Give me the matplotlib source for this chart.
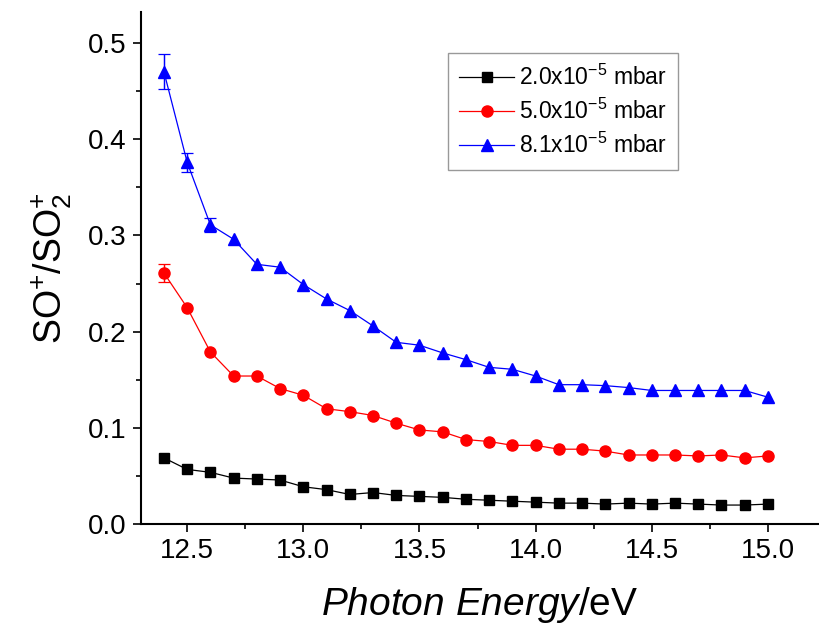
import numpy as np
import matplotlib
matplotlib.use('Agg')
import matplotlib.pyplot as plt
from matplotlib.ticker import MultipleLocator, FormatStrFormatter

plt.rcParams['font.family'] = ['Liberation Sans', 'DejaVu Sans']
plt.rcParams['mathtext.fontset'] = 'custom'
plt.rcParams['mathtext.rm'] = 'Liberation Sans'
plt.rcParams['mathtext.it'] = 'Liberation Sans:italic'
plt.rcParams['mathtext.bf'] = 'Liberation Sans:bold'

# --- data ---
energy = [12.4, 12.5, 12.6, 12.7, 12.8, 12.9, 13.0, 13.1, 13.2, 13.3, 13.4,
          13.5, 13.6, 13.7, 13.8, 13.9, 14.0, 14.1, 14.2, 14.3, 14.4, 14.5,
          14.6, 14.7, 14.8, 14.9, 15.0]

ratio_20 = [0.069, 0.057, 0.054, 0.048, 0.047, 0.046, 0.039, 0.036, 0.031,
            0.033, 0.030, 0.029, 0.028, 0.026, 0.025, 0.024, 0.023, 0.022,
            0.022, 0.021, 0.022, 0.021, 0.022, 0.021, 0.020, 0.020, 0.021]
err_20 = [0.002] * 27

ratio_50 = [0.261, 0.225, 0.179, 0.154, 0.154, 0.141, 0.134, 0.120, 0.117,
            0.113, 0.105, 0.098, 0.096, 0.088, 0.086, 0.082, 0.082, 0.078,
            0.078, 0.076, 0.072, 0.072, 0.072, 0.071, 0.072, 0.069, 0.071]
err_50 = [0.009, 0.004, 0.003, 0.003, 0.003, 0.003, 0.003, 0.003, 0.003,
          0.003, 0.003, 0.003, 0.003, 0.003, 0.003, 0.003, 0.003, 0.003,
          0.003, 0.003, 0.003, 0.003, 0.003, 0.003, 0.003, 0.003, 0.003]

ratio_81 = [0.470, 0.376, 0.311, 0.296, 0.270, 0.267, 0.249, 0.234, 0.222,
            0.206, 0.189, 0.186, 0.178, 0.171, 0.163, 0.161, 0.154, 0.145,
            0.145, 0.144, 0.142, 0.139, 0.139, 0.139, 0.139, 0.139, 0.132]
err_81 = [0.018, 0.010, 0.007, 0.006, 0.005, 0.005, 0.005, 0.005, 0.005,
          0.005, 0.005, 0.005, 0.005, 0.005, 0.005, 0.005, 0.005, 0.005,
          0.005, 0.005, 0.005, 0.005, 0.005, 0.005, 0.005, 0.005, 0.005]

labels = ['2.0x10$^{-5}$ mbar', '5.0x10$^{-5}$ mbar', '8.1x10$^{-5}$ mbar']

fig = plt.figure(figsize=(8.19, 6.33), dpi=100)
ax = fig.add_axes([0.1718, 0.1717, 0.8282, 0.8093])

series = [
    (ratio_20, err_20, 'black', 's', 7),
    (ratio_50, err_50, '#ff0000', 'o', 8),
    (ratio_81, err_81, '#0000ff', '^', 9),
]
handles = []
for (y, e, c, m, ms), lbl in zip(series, labels):
    x = np.array(energy)
    y = np.array(y)
    e = np.array(e)
    # stems for all points, caps only where the bar sticks out of the marker
    ax.errorbar(x, y, yerr=e, fmt='none', ecolor=c, elinewidth=0.9, capsize=0)
    big = e > 0.006
    ax.errorbar(x[big], y[big], yerr=e[big], fmt='none', ecolor=c,
                elinewidth=0.9, capsize=4.5, capthick=0.9)
    h, = ax.plot(x, y, color=c, marker=m, ms=ms, lw=0.9, label=lbl)
    handles.append(h)

ax.set_xlim(12.3, 15.22)
ax.set_ylim(0, 0.532)
ax.xaxis.set_major_locator(MultipleLocator(0.5))
ax.xaxis.set_minor_locator(MultipleLocator(0.25))
ax.yaxis.set_major_locator(MultipleLocator(0.1))
ax.yaxis.set_minor_locator(MultipleLocator(0.05))
ax.xaxis.set_major_formatter(FormatStrFormatter('%.1f'))
ax.yaxis.set_major_formatter(FormatStrFormatter('%.1f'))

for s in ['top', 'right']:
    ax.spines[s].set_visible(False)
for s in ['left', 'bottom']:
    ax.spines[s].set_linewidth(1.5)

ax.tick_params(which='major', direction='out', length=6, width=1.2,
               labelsize=20, pad=4)
ax.tick_params(which='minor', direction='out', length=3.5, width=1.2)

ax.set_xlabel(r'$\it{Photon\ Energy}$/eV', fontsize=28, labelpad=15)
ax.set_ylabel(r'SO$^{+}$/SO$_{2}^{+}$', fontsize=27, labelpad=10)

leg = ax.legend(handles=handles, loc='upper left',
                bbox_to_anchor=(448 / 819, 1 - 53 / 633),
                bbox_transform=fig.transFigure, borderaxespad=0,
                fontsize=16.5, frameon=True, fancybox=False, handlelength=2.4,
                handletextpad=0.2, labelspacing=0.4, borderpad=0.5)
leg.get_frame().set_edgecolor('#808080')
leg.get_frame().set_linewidth(1.0)

fig.savefig('out.png', dpi=100)
